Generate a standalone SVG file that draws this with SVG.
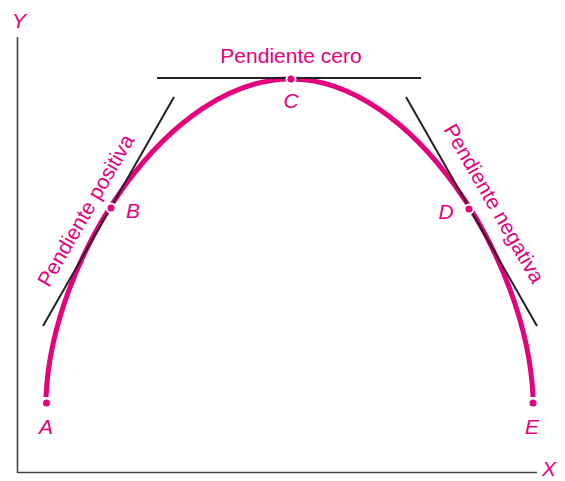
<svg xmlns="http://www.w3.org/2000/svg" width="565" height="481" viewBox="0 0 565 481">
<style>
.lbl{font-family:"Liberation Sans",Arial,sans-serif;font-size:21px;fill:#E6007E;}
.it{font-style:italic;text-anchor:middle;}
.tan{stroke:#222;stroke-width:2;fill:none;}
.dot{fill:#E6007E;stroke:#fff;stroke-width:2;}
</style>
<rect width="565" height="481" fill="#fff"/>
<g id="axes">
<path d="M17.5 37 V472.5 H537" fill="none" stroke="#444" stroke-width="1.6"/>
<text class="lbl it" x="19" y="28">Y</text>
<text class="lbl it" x="549" y="476">X</text>
</g>
<g id="curve">
<path d="M46 397 C52 258 168 79 291 79 C412 79 527 258 533 397" fill="none" stroke="#E6007E" stroke-width="5"/>
</g>
<g id="connectors">
<line class="tan" x1="157" y1="78" x2="421" y2="78"/>
<line class="tan" x1="43" y1="326" x2="174" y2="97"/>
<line class="tan" x1="406" y1="97" x2="537" y2="326"/>
</g>
<g id="A"><circle class="dot" cx="46.5" cy="403" r="4.5"/><text class="lbl it" x="46" y="434">A</text></g>
<g id="B"><circle class="dot" cx="111" cy="208" r="4.5"/><text class="lbl it" x="133" y="218">B</text></g>
<g id="C"><circle class="dot" cx="291" cy="79" r="4.5"/><text class="lbl it" x="291" y="108">C</text></g>
<g id="D"><circle class="dot" cx="469" cy="209" r="4.5"/><text class="lbl it" x="446" y="219">D</text></g>
<g id="E"><circle class="dot" cx="533" cy="403" r="4.5"/><text class="lbl it" x="532" y="434">E</text></g>
<g id="labels">
<text class="lbl" x="291" y="63" text-anchor="middle">Pendiente cero</text>
<text class="lbl" text-anchor="middle" transform="translate(92,214) rotate(-60)">Pendiente positiva</text>
<text class="lbl" text-anchor="middle" transform="translate(488,207) rotate(60)">Pendiente negativa</text>
</g>
</svg>
